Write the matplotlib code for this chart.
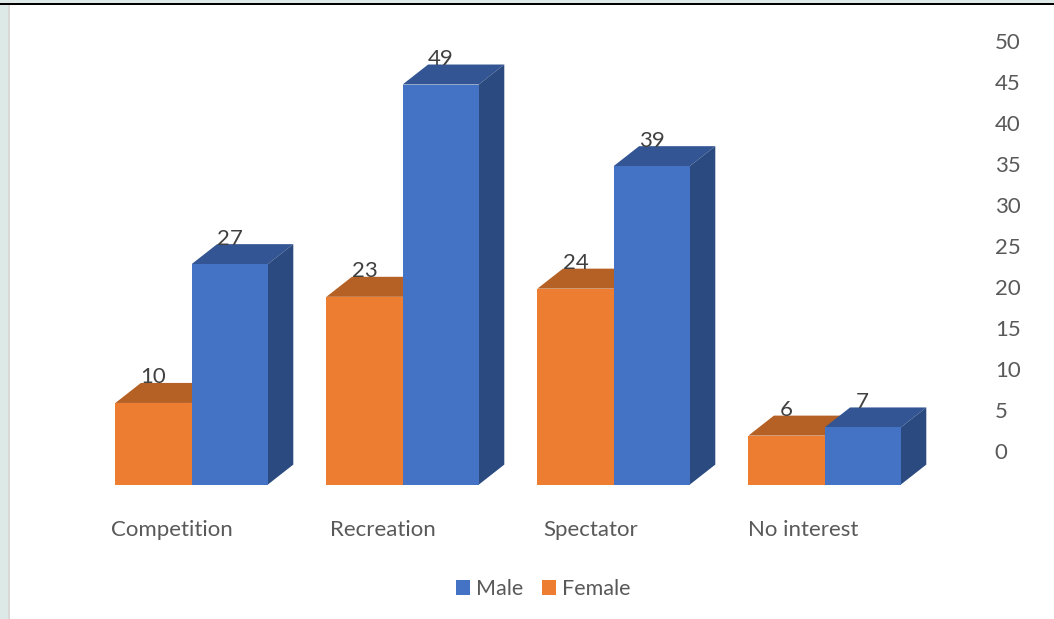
import matplotlib
matplotlib.use("Agg")
import matplotlib.pyplot as plt
from matplotlib.patches import Polygon, Rectangle, Patch

categories = ["Competition", "Recreation", "Spectator", "No interest"]
male = [27, 49, 39, 7]
female = [10, 23, 24, 6]
axis_ticks = [0, 5, 10, 15, 20, 25, 30, 35, 40, 45, 50]

W, H = 1054, 619
PX_PER_UNIT = 8.165
CAT_PX = 211.0
X0_PX, Y0_PX = 191.6, 484.6
BAR = 76.2 / CAT_PX
DX = 25.5 / CAT_PX
DY = 20.0 / PX_PER_UNIT
LABEL_DY = 25.5 / PX_PER_UNIT
CAT_LABEL_OFFSET = [-80.6, -72.6, -70, -76.6]
FS = 16

plt.rcParams["font.family"] = ["Lato", "DejaVu Sans"]
fig = plt.figure(figsize=(W / 100, H / 100), dpi=100, facecolor="white")
ax = fig.add_axes([0, 0, 1, 1])
ax.set_xlim(-X0_PX / CAT_PX, (W - X0_PX) / CAT_PX)
ax.set_ylim(-(H - Y0_PX) / PX_PER_UNIT, Y0_PX / PX_PER_UNIT)
ax.axis("off")

px = fig.transFigure


def band(x, y, w, h, color):
    fig.add_artist(Rectangle((x / W, 1 - (y + h) / H), w / W, h / H,
                             transform=px, facecolor=color, edgecolor="none"))


band(0, 0, W, 3, "#DDE9E7")
band(0, 4, 8, H - 4, "#DDE9E7")
band(8, 4, 2, H - 4, "#DAD7D7")
band(0, 3, W, 1.6, "#000000")


def bar3d(left, value, front, top, side, z):
    r = left + BAR
    ax.add_patch(Polygon([(left, 0), (r, 0), (r, value), (left, value)],
                         facecolor=front, edgecolor="none", zorder=z + 0.2))
    ax.add_patch(Polygon([(left, value), (r, value), (r + DX, value + DY), (left + DX, value + DY)],
                         facecolor=top, edgecolor="none", zorder=z))
    ax.add_patch(Polygon([(r, 0), (r + DX, DY), (r + DX, value + DY), (r, value)],
                         facecolor=side, edgecolor="none", zorder=z))


for i, (m, f) in enumerate(zip(male, female)):
    bar3d(i - BAR, f, "#ED7D31", "#B56024", "#A85A22", 2 + i * 2)
    bar3d(i, m, "#4472C4", "#335593", "#2A4A80", 3 + i * 2)
    ax.text(i - BAR / 2, f + LABEL_DY, str(f), ha="center", va="center",
            fontsize=FS, color="#404040", zorder=20)
    ax.text(i + BAR / 2, m + LABEL_DY, str(m), ha="center", va="center",
            fontsize=FS, color="#404040", zorder=20)
    ax.text(i + CAT_LABEL_OFFSET[i] / CAT_PX, -45.5 / PX_PER_UNIT, categories[i],
            ha="left", va="center", fontsize=FS, color="#595959", zorder=20)

ax2 = fig.add_axes([900 / W, 1 - 451 / H, 90 / W, 410 / H])
ax2.patch.set_alpha(0)
ax2.set_xticks([])
ax2.set_ylim(axis_ticks[0], axis_ticks[-1])
ax2.yaxis.tick_right()
ax2.set_yticks(axis_ticks)
ax2.tick_params(axis="y", length=0, pad=3.5, labelsize=FS, labelcolor="#595959")
for s in ax2.spines.values():
    s.set_visible(False)

leg = ax.legend(handles=[Patch(facecolor="#4472C4", label="Male"),
                         Patch(facecolor="#ED7D31", label="Female")],
                loc="center", bbox_to_anchor=(543.5 / W, 1 - 589 / H), ncol=2,
                frameon=False, fontsize=15.5, labelcolor="#595959",
                handlelength=0.65, handleheight=0.65, handletextpad=0.3, columnspacing=0.85)

fig.savefig("out.png", dpi=100, facecolor="white")
